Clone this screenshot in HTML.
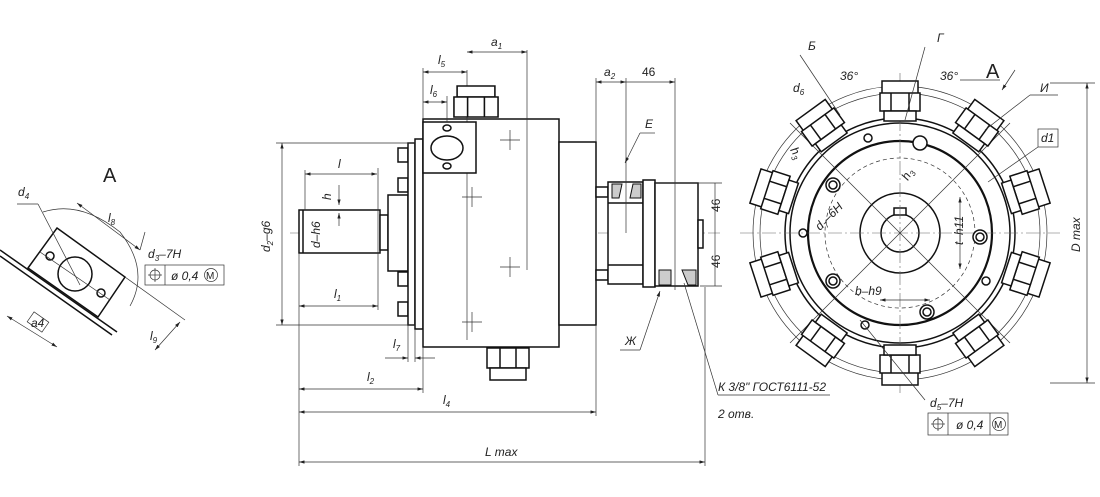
<!DOCTYPE html>
<html><head><meta charset="utf-8"><style>
html,body{margin:0;padding:0;background:#fff}
svg{display:block}
text{font-family:"Liberation Sans","DejaVu Sans",sans-serif;font-style:italic;font-size:12px;fill:#222}
.m{stroke:#111;stroke-width:1.5;fill:none}
.w{stroke:#111;stroke-width:1.5;fill:#fff}
.t{stroke:#333;stroke-width:0.7;fill:none}
.c{stroke:#666;stroke-width:0.6;fill:none;stroke-dasharray:14 3 2 3}
</style></head><body>
<svg width="1100" height="497" viewBox="0 0 1100 497" xmlns="http://www.w3.org/2000/svg">
<defs>
<marker id="a" viewBox="0 0 10 6" refX="10" refY="3" markerWidth="8" markerHeight="5" orient="auto-start-reverse"><path d="M0,0 L10,3 L0,6z" fill="#222"/></marker>
<g id="nut">
<rect x="-18" y="-24" width="36" height="14" class="w"/>
<rect x="-20" y="-12" width="40" height="18" class="w"/>
<line x1="-9" y1="-12" x2="-9" y2="6" class="m"/><line x1="9" y1="-12" x2="9" y2="6" class="m"/>
<rect x="-16" y="6" width="32" height="10" class="w"/>
</g>
</defs>

<!-- VIEW A (small) -->
<text x="103" y="182" style="font-size:20px;font-style:normal">A</text>
<path d="M43,212 Q80,200 120,232 Q150,270 130,306" class="t"/>
<line x1="0" y1="250" x2="117" y2="332" class="m"/>
<line x1="0" y1="256" x2="112" y2="335" class="m"/>
<path d="M57,228 L125,277 L98,317 L28,268 Z" class="w"/>
<circle cx="75" cy="274" r="17" class="m"/>
<circle cx="50" cy="256" r="4" class="m"/>
<circle cx="101" cy="293" r="4" class="m"/>
<line x1="40" y1="252" x2="110" y2="300" class="t"/>
<line x1="17" y1="204" x2="38" y2="204" class="t"/><line x1="38" y1="204" x2="80" y2="285" class="t"/>
<text x="18" y="196">d<tspan font-size="8" dy="3">4</tspan></text>
<line x1="77" y1="203" x2="140" y2="250" class="t" marker-start="url(#a)" marker-end="url(#a)"/>
<text x="108" y="222">l<tspan font-size="8" dy="3">8</tspan></text>
<line x1="140" y1="250" x2="145" y2="232" class="t"/>
<text x="148" y="258">d<tspan font-size="8" dy="3">3</tspan><tspan dy="-3">–7H</tspan></text>
<rect x="145" y="265" width="79" height="20" class="t"/><line x1="165" y1="265" x2="165" y2="285" class="t"/>
<circle cx="155" cy="275" r="5" class="t"/><line x1="148" y1="275" x2="162" y2="275" class="t"/><line x1="155" y1="268" x2="155" y2="282" class="t"/>
<text x="171" y="280">ø 0,4</text><circle cx="211" cy="275" r="6.5" class="t"/><text x="206" y="279" style="font-size:10px;font-style:normal">M</text>
<line x1="7" y1="316" x2="57" y2="347" class="t" marker-start="url(#a)" marker-end="url(#a)"/>
<rect x="29" y="316" width="18" height="12" class="t" transform="rotate(35 38 322)"/>
<text x="31" y="327" font-size="10">a4</text>
<line x1="125" y1="277" x2="185" y2="320" class="t"/>
<line x1="180" y1="322" x2="155" y2="350" class="t" marker-start="url(#a)" marker-end="url(#a)"/>
<text x="150" y="340">l<tspan font-size="8" dy="3">9</tspan></text>

<!-- MAIN VIEW -->
<line x1="290" y1="233" x2="720" y2="233" class="c"/>
<rect x="299" y="210" width="81" height="43" class="w"/>
<line x1="303" y1="210" x2="303" y2="253" class="m"/>
<rect x="380" y="215" width="8" height="35" class="w"/>
<rect x="388" y="195" width="20" height="76" class="w"/>
<rect x="398" y="148" width="10" height="14" class="w"/>
<rect x="398" y="178" width="10" height="14" class="w"/>
<rect x="398" y="272" width="10" height="14" class="w"/>
<rect x="398" y="302" width="10" height="14" class="w"/>
<rect x="408" y="143" width="7" height="182" class="w"/>
<rect x="415" y="139" width="8" height="190" class="w"/>
<rect x="423" y="119" width="136" height="228" class="w"/>
<line x1="467" y1="70" x2="467" y2="340" class="t"/>
<line x1="527" y1="50" x2="527" y2="270" class="t"/>
<path d="M500,140 h20 M510,130 v20 M462,197 h20 M472,187 v20 M500,267 h20 M510,257 v20 M462,322 h20 M472,312 v20" class="t"/>
<rect x="423" y="122" width="53" height="51" class="w"/>
<ellipse cx="447" cy="148" rx="16" ry="12" class="m"/>
<ellipse cx="447" cy="128" rx="4" ry="3" class="m"/>
<ellipse cx="447" cy="166" rx="4" ry="3" class="m"/>
<g transform="translate(476,110) scale(1.05,1)"><rect x="-18" y="-24" width="36" height="11" class="w"/><rect x="-21" y="-13" width="42" height="20" class="w"/><line x1="-8" y1="-13" x2="-8" y2="7" class="m"/><line x1="8" y1="-13" x2="8" y2="7" class="m"/></g>
<g transform="translate(508,356)"><rect x="-21" y="-8" width="42" height="20" class="w"/><line x1="-8" y1="-8" x2="-8" y2="12" class="m"/><line x1="8" y1="-8" x2="8" y2="12" class="m"/><rect x="-18" y="12" width="36" height="12" class="w"/></g>
<rect x="559" y="142" width="37" height="183" class="w"/>
<rect x="596" y="187" width="12" height="10" class="w"/>
<rect x="596" y="270" width="12" height="10" class="w"/>
<rect x="608" y="182" width="35" height="102" class="w"/>
<line x1="608" y1="203" x2="643" y2="203" class="m"/><line x1="608" y1="265" x2="643" y2="265" class="m"/>
<path d="M612,184 h10 l-3,14 h-7z M633,184 h8 v14 h-11z" fill="#ccc" stroke="#111"/>
<rect x="643" y="180" width="12" height="107" class="w"/>
<rect x="655" y="183" width="43" height="103" class="w"/>
<path d="M659,270 h12 v15 h-12z M682,270 h14 v15 h-8z" fill="#ccc" stroke="#111"/>
<rect x="698" y="220" width="5" height="28" class="w"/>
<line x1="282" y1="143" x2="282" y2="325" class="t" marker-start="url(#a)" marker-end="url(#a)"/>
<line x1="276" y1="143" x2="415" y2="143" class="t"/><line x1="276" y1="325" x2="415" y2="325" class="t"/>
<text x="270" y="252" transform="rotate(-90 270 252)">d<tspan font-size="8" dy="3">2</tspan><tspan dy="-3">–g6</tspan></text>
<line x1="305" y1="174" x2="377" y2="174" class="t" marker-start="url(#a)" marker-end="url(#a)"/>
<line x1="305" y1="170" x2="305" y2="210" class="t"/><line x1="378" y1="168" x2="378" y2="310" class="t"/>
<text x="338" y="168">l</text>
<line x1="339" y1="185" x2="339" y2="205" class="t" marker-end="url(#a)"/><line x1="339" y1="226" x2="339" y2="213" class="t" marker-end="url(#a)"/>
<text x="331" y="200" font-size="11" transform="rotate(-90 331 200)">h</text>
<text x="320" y="248" transform="rotate(-90 320 248)">d–h6</text>
<line x1="299" y1="306" x2="378" y2="306" class="t" marker-start="url(#a)" marker-end="url(#a)"/>
<text x="334" y="298">l<tspan font-size="8" dy="3">1</tspan></text>
<line x1="299" y1="253" x2="299" y2="466" class="t"/>
<line x1="385" y1="358" x2="408" y2="358" class="t" marker-end="url(#a)"/><line x1="435" y1="358" x2="415" y2="358" class="t" marker-end="url(#a)"/>
<line x1="415" y1="329" x2="415" y2="362" class="t"/><line x1="408" y1="325" x2="408" y2="362" class="t"/>
<text x="393" y="348">l<tspan font-size="8" dy="3">7</tspan></text>
<line x1="299" y1="389" x2="423" y2="389" class="t" marker-start="url(#a)" marker-end="url(#a)"/>
<line x1="423" y1="347" x2="423" y2="393" class="t"/>
<text x="367" y="381">l<tspan font-size="8" dy="3">2</tspan></text>
<line x1="299" y1="412" x2="596" y2="412" class="t" marker-start="url(#a)" marker-end="url(#a)"/>
<line x1="596" y1="325" x2="596" y2="416" class="t"/>
<text x="443" y="404">l<tspan font-size="8" dy="3">4</tspan></text>
<line x1="299" y1="462" x2="705" y2="462" class="t" marker-start="url(#a)" marker-end="url(#a)"/>
<line x1="705" y1="287" x2="705" y2="466" class="t"/>
<text x="485" y="456">L max</text>
<line x1="423" y1="68" x2="423" y2="119" class="t"/>
<line x1="467" y1="52" x2="527" y2="52" class="t" marker-start="url(#a)" marker-end="url(#a)"/>
<text x="491" y="46">a<tspan font-size="8" dy="3">1</tspan></text>
<line x1="423" y1="72" x2="467" y2="72" class="t" marker-start="url(#a)" marker-end="url(#a)"/>
<text x="438" y="64">l<tspan font-size="8" dy="3">5</tspan></text>
<line x1="423" y1="102" x2="447" y2="102" class="t" marker-start="url(#a)" marker-end="url(#a)"/>
<line x1="447" y1="96" x2="447" y2="122" class="t"/>
<text x="430" y="94">l<tspan font-size="8" dy="3">6</tspan></text>
<line x1="596" y1="82" x2="626" y2="82" class="t" marker-start="url(#a)" marker-end="url(#a)"/>
<line x1="626" y1="82" x2="675" y2="82" class="t" marker-end="url(#a)"/>
<line x1="596" y1="78" x2="596" y2="142" class="t"/><line x1="626" y1="78" x2="626" y2="233" class="t"/><line x1="675" y1="78" x2="675" y2="290" class="t"/>
<text x="604" y="76">a<tspan font-size="8" dy="3">2</tspan></text>
<text x="642" y="76" style="font-style:normal">46</text>
<line x1="655" y1="183" x2="722" y2="183" class="t"/><line x1="700" y1="286" x2="722" y2="286" class="t"/>
<line x1="715" y1="183" x2="715" y2="286" class="t"/>
<text x="720" y="212" transform="rotate(-90 720 212)" style="font-style:normal">46</text>
<text x="720" y="268" transform="rotate(-90 720 268)" style="font-style:normal">46</text>
<line x1="640" y1="133" x2="625" y2="163" class="t" marker-end="url(#a)"/><line x1="640" y1="133" x2="655" y2="133" class="t"/>
<text x="645" y="128">Е</text>
<line x1="660" y1="291" x2="640" y2="350" class="t" marker-start="url(#a)"/><line x1="620" y1="350" x2="640" y2="350" class="t"/>
<text x="625" y="345">Ж</text>
<line x1="684" y1="283" x2="718" y2="395" class="t"/>
<line x1="718" y1="395" x2="830" y2="395" class="t"/>
<text x="718" y="391">К 3/8" ГОСТ6111-52</text>
<text x="718" y="418">2 отв.</text>

<!-- RIGHT VIEW -->
<g transform="translate(900,233)">
<circle r="147" class="t"/>
<circle r="140" class="t"/>
<circle r="115" class="m"/>
<circle r="110" class="m"/>
<circle r="92" style="stroke:#111;stroke-width:2.2;fill:none"/>
<circle r="75" class="t" stroke-dasharray="4 3"/>
<circle r="40" class="m"/>
<circle r="19" class="m"/>
<rect x="-6" y="-25" width="12" height="7" class="w"/>
<line x1="-160" y1="0" x2="160" y2="0" class="c"/><line x1="0" y1="-160" x2="0" y2="160" class="c"/>
<g class="t"><line x1="-110" y1="-110" x2="110" y2="110"/><line x1="110" y1="-110" x2="-110" y2="110"/></g>
<use href="#nut" transform="translate(0,-128)"/>
<use href="#nut" transform="rotate(36) translate(0,-128)"/>
<use href="#nut" transform="rotate(72) translate(0,-128)"/>
<use href="#nut" transform="rotate(108) translate(0,-128)"/>
<use href="#nut" transform="rotate(144) translate(0,-128)"/>
<use href="#nut" transform="rotate(180) translate(0,-128)"/>
<use href="#nut" transform="rotate(216) translate(0,-128)"/>
<use href="#nut" transform="rotate(252) translate(0,-128)"/>
<use href="#nut" transform="rotate(288) translate(0,-128)"/>
<use href="#nut" transform="rotate(324) translate(0,-128)"/>
<g fill="#fff" stroke="#111" stroke-width="1.5">
<circle cx="-67" cy="-48" r="7"/><circle cx="-67" cy="-48" r="4"/>
<circle cx="80" cy="4" r="7"/><circle cx="80" cy="4" r="4"/>
<circle cx="-67" cy="48" r="7"/><circle cx="-67" cy="48" r="4"/>
<circle cx="27" cy="79" r="7"/><circle cx="27" cy="79" r="4"/>
<circle cx="20" cy="-90" r="7"/>
</g>
<circle cx="-97" cy="0" r="4" class="m"/><circle cx="86" cy="48" r="4" class="m"/><circle cx="-32" cy="-95" r="4" class="m"/><circle cx="-35" cy="92" r="4" class="m"/>
<line x1="60" y1="-36" x2="60" y2="36" class="t" marker-start="url(#a)" marker-end="url(#a)"/>
<text x="63" y="12" transform="rotate(-90 63 12)">t–h11</text>
<line x1="-20" y1="67" x2="30" y2="67" class="t" marker-start="url(#a)" marker-end="url(#a)"/>
<text x="-45" y="62">b–h9</text>
<text x="-80" y="-2" transform="rotate(-45 -80 -2)">d<tspan font-size="8" dy="3">7</tspan><tspan dy="-3">–6H</tspan></text>
<text x="8" y="-52" transform="rotate(-60 8 -52)">h<tspan font-size="8" dy="3">3</tspan></text>
</g>
<text x="808" y="50">Б</text><line x1="800" y1="55" x2="840" y2="115" class="t"/>
<text x="937" y="42">Г</text><line x1="925" y1="47" x2="905" y2="120" class="t"/>
<text x="840" y="80">36°</text><text x="940" y="80">36°</text>
<text x="986" y="78" style="font-size:20px;font-style:normal">А</text>
<line x1="960" y1="80" x2="1000" y2="80" class="t"/>
<line x1="1015" y1="70" x2="1002" y2="90" class="t" marker-end="url(#a)"/>
<text x="1040" y="92">И</text><line x1="1030" y1="95" x2="1058" y2="95" class="t"/><line x1="1030" y1="95" x2="985" y2="130" class="t"/>
<rect x="1038" y="129" width="20" height="18" class="t"/><text x="1041" y="142">d1</text>
<line x1="1038" y1="147" x2="988" y2="182" class="t"/>
<text x="793" y="92">d<tspan font-size="8" dy="3">6</tspan></text>
<text x="790" y="150" transform="rotate(60 790 150)">h<tspan font-size="8" dy="3">3</tspan></text>
<line x1="1050" y1="83" x2="1095" y2="83" class="t"/><line x1="1050" y1="383" x2="1095" y2="383" class="t"/>
<line x1="1087" y1="83" x2="1087" y2="383" class="t" marker-start="url(#a)" marker-end="url(#a)"/>
<text x="1080" y="252" transform="rotate(-90 1080 252)">D max</text>
<line x1="860" y1="320" x2="925" y2="400" class="t"/>
<text x="930" y="407">d<tspan font-size="8" dy="3">5</tspan><tspan dy="-3">–7H</tspan></text>
<rect x="928" y="413" width="80" height="22" class="t"/><line x1="948" y1="413" x2="948" y2="435" class="t"/><line x1="990" y1="413" x2="990" y2="435" class="t"/>
<circle cx="938" cy="424" r="5" class="t"/><line x1="931" y1="424" x2="945" y2="424" class="t"/><line x1="938" y1="417" x2="938" y2="431" class="t"/>
<text x="956" y="429">ø 0,4</text><circle cx="999" cy="424" r="6.5" class="t"/><text x="994" y="428" style="font-size:10px;font-style:normal">M</text>
</svg>
</body></html>
